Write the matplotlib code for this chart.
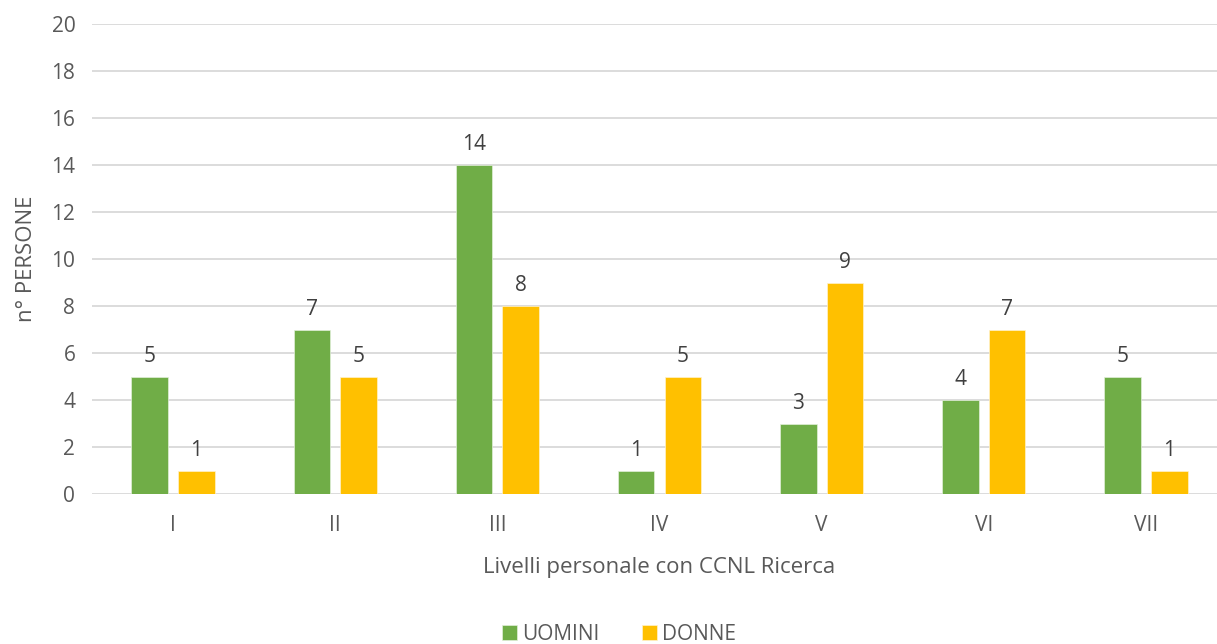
import matplotlib
matplotlib.use("Agg")
import matplotlib.pyplot as plt
import numpy as np

levels = ["I", "II", "III", "IV", "V", "VI", "VII"]
uomini = [5, 7, 14, 1, 3, 4, 5]
donne = [1, 5, 8, 5, 9, 7, 1]
series_names = ["UOMINI", "DONNE"]
y_ticks = list(range(0, 21, 2))

plt.rcParams["font.family"] = ["Open Sans", "DejaVu Sans"]
text_color = "#595959"
label_color = "#404040"
green = "#70AD47"
yellow = "#FFC000"

W, H = 1217, 644
fig = plt.figure(figsize=(W / 100, H / 100), dpi=100)
ax = fig.add_axes([92 / W, (H - 494) / H, 1135 / W, 470 / H])

x = np.arange(len(levels))
bw = 0.225
off = 0.144
b1 = ax.bar(x - off, uomini, bw, color=green, edgecolor="#E2EFDA", linewidth=0.5,
            label=series_names[0], zorder=3)
b2 = ax.bar(x + off, donne, bw, color=yellow, edgecolor="#FFF2CC", linewidth=0.5,
            label=series_names[1], zorder=3)

for bars in (b1, b2):
    for rect in bars:
        h = rect.get_height()
        ax.annotate(f"{h:g}", (rect.get_x() + rect.get_width() / 2, h),
                    xytext=(0, 7), textcoords="offset points",
                    ha="center", va="bottom", fontsize=15, color=label_color)

ax.set_xlim(-0.5, len(levels) - 0.5)
ax.set_ylim(0, 20)
ax.set_yticks(y_ticks)
ax.set_xticks(x)
ax.set_xticklabels(levels)
ax.yaxis.grid(True, color="#D9D9D9", linewidth=1.3, zorder=0)
ax.set_axisbelow(True)
for s in ax.spines.values():
    s.set_visible(False)
ax.tick_params(axis="both", length=0, labelsize=15, colors=text_color)
ax.tick_params(axis="y", pad=12)
ax.tick_params(axis="x", pad=15)

ax.set_xlabel("Livelli personale con CCNL Ricerca", fontsize=16, color=text_color, labelpad=15)
ax.set_ylabel("n° PERSONE", fontsize=16, color=text_color, labelpad=10)

fig.legend(handles=[b1, b2], labels=series_names, loc="center",
           bbox_to_anchor=(619 / W, (H - 634) / H), ncol=2, frameon=False,
           fontsize=15, labelcolor=text_color, handlelength=0.75, handleheight=0.75,
           handletextpad=0.25, columnspacing=2.0)

fig.savefig("out.png", dpi=100)
